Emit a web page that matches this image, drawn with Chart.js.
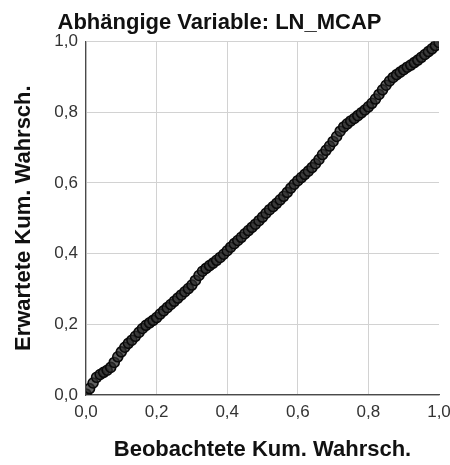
<!DOCTYPE html>
<html>
<head>
<meta charset="utf-8">
<script src="https://cdn.jsdelivr.net/npm/chart.js@4.4.1/dist/chart.umd.min.js"></script>
<style>
html,body{margin:0;padding:0;background:#fff;}
#wrap{width:450px;height:465px;}
</style>
</head>
<body>
<div id="wrap"><canvas id="c" width="450" height="465"></canvas></div>
<script>
const chartTitle = 'Abhängige Variable: LN_MCAP';
const xAxisTitle = 'Beobachtete Kum. Wahrsch.';
const yAxisTitle = 'Erwartete Kum. Wahrsch.';
const tickValues = [0, 0.2, 0.4, 0.6, 0.8, 1.0];

const observedProb = [
0.000,0.010,0.020,0.030,0.040,0.050,0.060,0.070,0.080,0.090,
0.100,0.110,0.120,0.130,0.140,0.150,0.160,0.170,0.180,0.190,
0.200,0.210,0.220,0.230,0.240,0.250,0.260,0.270,0.280,0.290,
0.300,0.310,0.320,0.330,0.340,0.350,0.360,0.370,0.380,0.390,
0.400,0.410,0.420,0.430,0.440,0.450,0.460,0.470,0.480,0.490,
0.500,0.510,0.520,0.530,0.540,0.550,0.560,0.570,0.580,0.590,
0.600,0.610,0.620,0.630,0.640,0.650,0.660,0.670,0.680,0.690,
0.700,0.710,0.720,0.730,0.740,0.750,0.760,0.770,0.780,0.790,
0.800,0.810,0.820,0.830,0.840,0.850,0.860,0.870,0.880,0.890,
0.900,0.910,0.920,0.930,0.940,0.950,0.960,0.970,0.980,0.990,
1.000];

const expectedProb = [
0.003,0.018,0.034,0.050,0.058,0.064,0.070,0.078,0.092,0.108,
0.122,0.135,0.146,0.155,0.166,0.177,0.188,0.197,0.204,0.211,
0.219,0.229,0.238,0.247,0.256,0.265,0.274,0.283,0.292,0.301,
0.311,0.324,0.338,0.350,0.358,0.366,0.373,0.381,0.389,0.398,
0.408,0.418,0.428,0.437,0.446,0.456,0.465,0.474,0.483,0.493,
0.503,0.514,0.524,0.533,0.542,0.552,0.562,0.573,0.585,0.596,
0.606,0.615,0.624,0.633,0.643,0.654,0.666,0.680,0.692,0.704,
0.717,0.731,0.746,0.758,0.767,0.775,0.782,0.790,0.798,0.806,
0.815,0.825,0.837,0.850,0.863,0.876,0.888,0.898,0.906,0.913,
0.920,0.927,0.933,0.940,0.947,0.955,0.963,0.971,0.979,0.988,
0.997];

const points = observedProb.map((x, i) => ({x: x, y: expectedProb[i]}));
const fmt = v => Number(v).toFixed(1).replace('.', ',');
const FONT = "'Liberation Sans', Arial, sans-serif";

new Chart(document.getElementById('c'), {
  type: 'scatter',
  data: {
    datasets: [{
      data: points,
      pointRadius: 5,
      pointHoverRadius: 5,
      borderWidth: 1.6,
      borderColor: '#0a0a0a',
      backgroundColor: 'rgba(45,45,45,0.75)'
    }]
  },
  options: {
    responsive: false,
    animation: false,
    devicePixelRatio: 1,
    layout: {padding: {left: 0, right: 11, top: 0, bottom: 0}},
    plugins: {
      legend: {display: false},
      tooltip: {enabled: false},
      title: {
        display: true,
        text: chartTitle,
        color: '#111',
        font: {family: FONT, size: 22, weight: 'bold'},
        padding: {top: 10, bottom: 5}
      }
    },
    scales: {
      x: {
        type: 'linear',
        min: 0, max: 1,
        afterBuildTicks: s => { s.ticks = tickValues.map(v => ({value: v})); },
        afterFit: s => { s.height = 70; s.paddingLeft = 0; s.paddingRight = 0; },
        ticks: {
          callback: fmt,
          color: '#333',
          font: {family: FONT, size: 17},
          padding: 7,
          maxRotation: 0,
          autoSkip: false
        },
        grid: {
          drawTicks: false,
          lineWidth: 1,
          color: ctx => (ctx.tick && ctx.tick.value >= 1) ? 'rgba(0,0,0,0)' : '#d2d2d2'
        },
        border: {color: '#4a4a4a', width: 1.2},
        title: {
          display: true,
          text: xAxisTitle,
          color: '#111',
          font: {family: FONT, size: 22, weight: 'bold'},
          padding: {top: 0, bottom: 2}
        }
      },
      y: {
        type: 'linear',
        min: 0, max: 1,
        afterBuildTicks: s => { s.ticks = tickValues.map(v => ({value: v})); },
        afterFit: s => { s.width = 86; s.paddingTop = 0; s.paddingBottom = 0; },
        ticks: {
          callback: fmt,
          color: '#333',
          font: {family: FONT, size: 17},
          padding: 8,
          autoSkip: false
        },
        grid: {
          drawTicks: false,
          lineWidth: 1,
          color: '#d2d2d2'
        },
        border: {color: '#4a4a4a', width: 1.2},
        title: {
          display: true,
          text: yAxisTitle,
          color: '#111',
          font: {family: FONT, size: 22, weight: 'bold'},
          padding: {top: 11, bottom: 0}
        }
      }
    }
  }
});
</script>
</body>
</html>
